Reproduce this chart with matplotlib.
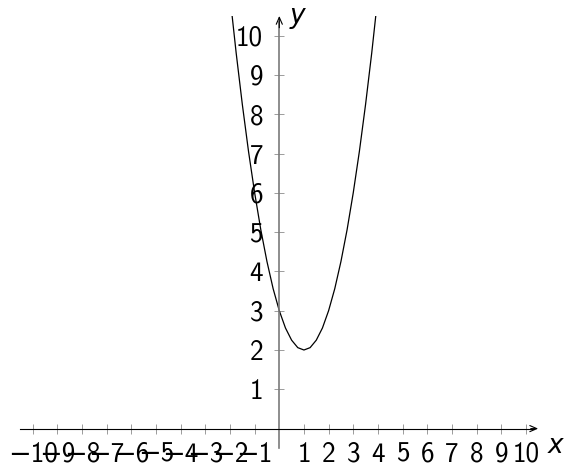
import matplotlib
matplotlib.use("Agg")
import matplotlib.pyplot as plt
from matplotlib.patches import Rectangle

# ---- data ----
curve_x = [-2.0, -1.75, -1.5, -1.25, -1.0, -0.75, -0.5, -0.25, 0.0, 0.25, 0.5, 0.75,
           1.0, 1.25, 1.5, 1.75, 2.0, 2.25, 2.5, 2.75, 3.0, 3.25, 3.5, 3.75, 4.0]
curve_y = [11.0, 9.56, 8.25, 7.06, 6.0, 5.06, 4.25, 3.56, 3.0, 2.56, 2.25, 2.06,
           2.0, 2.06, 2.25, 2.56, 3.0, 3.56, 4.25, 5.06, 6.0, 7.06, 8.25, 9.56, 11.0]

x_ticks = [-10, -9, -8, -7, -6, -5, -4, -3, -2, -1, 1, 2, 3, 4, 5, 6, 7, 8, 9, 10]
x_tick_labels = ['\u221210', '\u22129', '\u22128', '\u22127', '\u22126', '\u22125',
                 '\u22124', '\u22123', '\u22122', '\u22121',
                 '1', '2', '3', '4', '5', '6', '7', '8', '9', '10']
y_ticks = [1, 2, 3, 4, 5, 6, 7, 8, 9, 10]
y_tick_labels = ['1', '2', '3', '4', '5', '6', '7', '8', '9', '10']

x_range = (-10.5, 10.5)
y_range = (-0.5, 10.5)

FONT = ['cmss10', 'DejaVu Sans']
plt.rcParams['font.family'] = FONT
plt.rcParams['axes.unicode_minus'] = True

fig = plt.figure(figsize=(5.65, 4.67), dpi=100)
ax = fig.add_axes([0, 0, 1, 1])
ax.set_xlim(-11.33, 11.59)
ax.set_ylim(-0.977, 10.906)
ax.patch.set_visible(False)

for s in ['top', 'right']:
    ax.spines[s].set_visible(False)
ax.spines['bottom'].set_position(('data', 0))
ax.spines['left'].set_position(('data', 0))
ax.spines['bottom'].set_bounds(x_range[0], x_range[1] - 0.15)
ax.spines['left'].set_bounds(y_range[0], y_range[1] - 0.15)
ax.spines['bottom'].set_color('black')
ax.spines['bottom'].set_linewidth(0.8)
ax.spines['left'].set_color('#7a7a7a')
ax.spines['left'].set_linewidth(1.2)

ax.set_xticks(x_ticks)
ax.set_xticklabels(x_tick_labels)
ax.set_yticks(y_ticks)
ax.set_yticklabels(y_tick_labels)
ax.tick_params(axis='both', direction='inout', length=7.5, width=0.6,
               color='#8c8c8c', labelsize=19.5, labelcolor='black')
ax.tick_params(axis='x', pad=5.8)
ax.tick_params(axis='y', pad=8)
for lab in ax.get_xticklabels() + ax.get_yticklabels():
    lab.set_family(FONT)

# arrow heads
ax.annotate('', xy=(x_range[1], 0), xytext=(x_range[1] - 0.3, 0),
            arrowprops=dict(arrowstyle='->,head_length=0.5,head_width=0.22',
                            color='black', lw=0.8, shrinkA=0, shrinkB=0))
ax.annotate('', xy=(0, y_range[1]), xytext=(0, y_range[1] - 0.3),
            arrowprops=dict(arrowstyle='->,head_length=0.5,head_width=0.22',
                            color='black', lw=0.8, shrinkA=0, shrinkB=0))

# axis labels
ax.text(11.2, -0.45, 'x', ha='center', va='center', fontsize=19,
        family='DejaVu Sans', style='italic')
ax.text(0.72, 10.5, 'y', ha='center', va='center', fontsize=19,
        family='DejaVu Sans', style='italic')

line, = ax.plot(curve_x, curve_y, color='black', lw=0.9)
clip = Rectangle((x_range[0], y_range[0]), x_range[1] - x_range[0],
                 y_range[1] - y_range[0], transform=ax.transData)
line.set_clip_path(clip)

fig.savefig('out.png', dpi=100)
